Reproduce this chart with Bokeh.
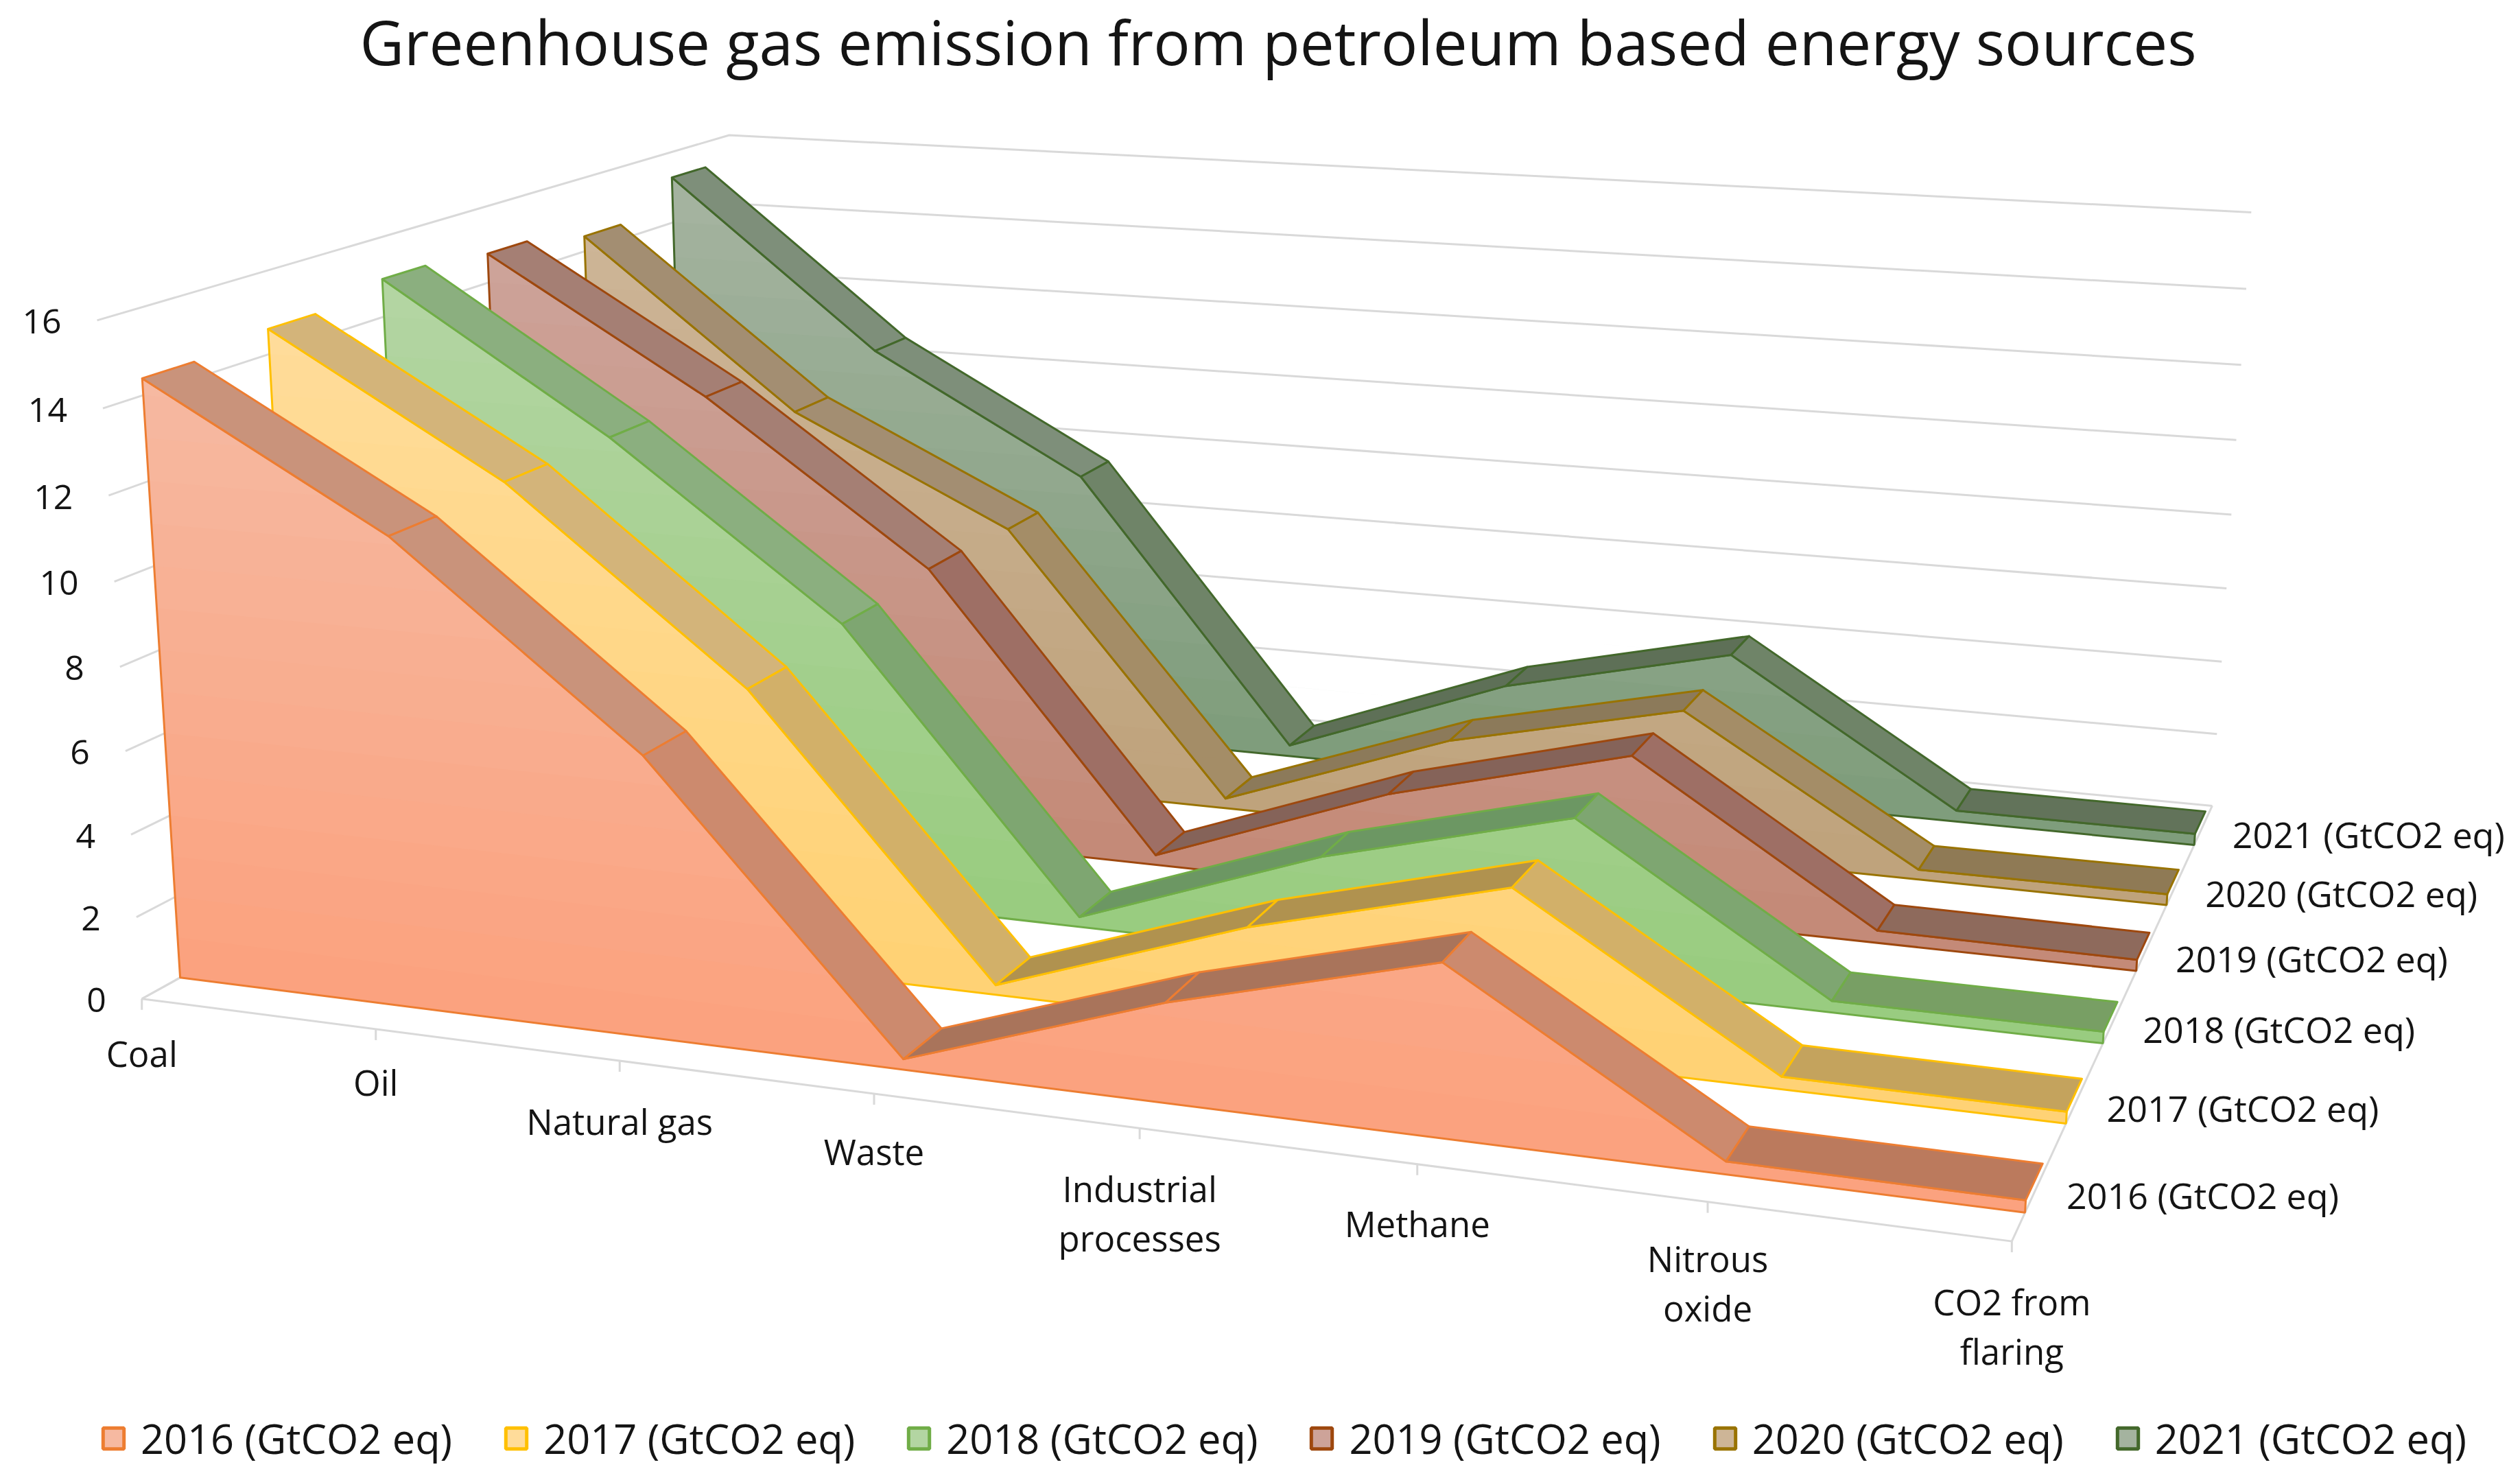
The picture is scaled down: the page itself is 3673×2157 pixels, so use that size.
import numpy as np
from bokeh.plotting import figure
from bokeh.embed import file_html
from bokeh.resources import INLINE
from bokeh.core.properties import value
from bokeh.models import Legend, LegendItem

# ---------- data ----------
title = "Greenhouse gas emission from petroleum based energy sources"
categories = [["Coal"], ["Oil"], ["Natural gas"], ["Waste"], ["Industrial", "processes"],
              ["Methane"], ["Nitrous", "oxide"], ["CO2 from", "flaring"]]
series_names = ["2016 (GtCO2 eq)", "2017 (GtCO2 eq)", "2018 (GtCO2 eq)",
                "2019 (GtCO2 eq)", "2020 (GtCO2 eq)", "2021 (GtCO2 eq)"]
y2016 = [14.39, 11.19, 6.66, 0.25, 2.31, 3.94, 0.29, 0.27]
y2017 = [14.61, 11.33, 6.83, 0.24, 2.35, 3.97, 0.29, 0.27]
y2018 = [14.95, 11.35, 7.12, 0.25, 2.45, 4.05, 0.28, 0.28]
y2019 = [14.76, 11.37, 7.29, 0.26, 2.51, 4.11, 0.31, 0.28]
y2020 = [14.41, 9.95, 7.17, 0.27, 2.47, 3.86, 0.26, 0.28]
y2021 = [15.28, 10.68, 7.51, 0.31, 2.59, 4.01, 0.30, 0.30]
series_values = [y2016, y2017, y2018, y2019, y2020, y2021]
value_ticks = [0, 2, 4, 6, 8, 10, 12, 14, 16]

# ---------- style ----------
FONT = "Open Sans"
INK = "#141414"
border = ["#ED7D31", "#FFC000", "#70AD47", "#9E480E", "#997300", "#43682B"]
face_top = ["#F6B9A1", "#FFDC9A", "#B3D5A2", "#CDA399", "#CDB597", "#A4B39F"]
face_bottom = ["#FBA27F", "#FFD275", "#99CC80", "#C48A78", "#BFA37C", "#7F9D7C"]
rib_down = ["#C9937B", "#D3B47A", "#8BAF7F", "#A57F74", "#A38E72", "#7E8F7A"]
rib_steep = ["#CC8A6E", "#D2B069", "#7EA671", "#9E6F65", "#A48D67", "#6F8468"]
rib_up = ["#A9745B", "#B0924F", "#6C9763", "#856359", "#8C7A5A", "#5E7057"]
rib_flat = ["#BB7A5D", "#C4A35D", "#789F64", "#8E6A5C", "#8F7A55", "#62735A"]
GRID = "#D9D9D9"
FRONT, BACK = 0.3, 0.7   # ribbon extent inside each series' depth cell
category_nudge = [-7, -9, 2, -2, 2, 0, -4, 2]

# ---------- camera: a pin-hole projection fitted to where the box's corners lie ----------
cam = []
for i, q in enumerate([(208,1455),(547,1500),(903,1546),(1275,1594),(1660,1645),(2064,1697),(2488,1753),(2933,1808)]):
    cam.append((i, 0, 0) + q)
for w, q in zip([2,4,6,8,10,12,14,16], [(199,1335),(189,1216),(182,1094),(174,972),(167,846),(158,722),(151,594),(140,466)]):
    cam.append((0, 0, w) + q)
cam.append((0, 6, 16, 1062, 197))
for w, q in zip([16,14,12,10,8,6,4,2,0], [(3280,309),(3274,421),(3266,531),(3259,641),(3252,750),(3245,857),(3239,963),(3232,1069),(3222,1174)]):
    cam.append((7, 6, w) + q)
for s, q in enumerate([(2951,1765),(3010,1637),(3065,1520),(3113,1414),(3157,1318),(3198,1231)]):
    cam.append((7, s + FRONT, 0) + q)
cam.append((0, FRONT, 0, 261, 1424))
cam = np.array(cam, float)
cm, csc = cam[:, 3:].mean(0), 1000.0
rows = []
for u, v, w, x, y in cam:
    x, y = (x - cm[0]) / csc, (y - cm[1]) / csc
    X = [u, v, w, 1.0]
    rows.append(X + [0, 0, 0, 0] + [-x * t for t in X])
    rows.append([0, 0, 0, 0] + X + [-y * t for t in X])
P = np.linalg.svd(np.array(rows))[2][-1].reshape(3, 4)


def proj(u, v, w):
    h = P @ np.array([u, v, w, 1.0])
    return h[0] / h[2] * csc + cm[0], h[1] / h[2] * csc + cm[1]


def path(pts):
    q = [proj(*t) for t in pts]
    return [a for a, _ in q], [b for _, b in q]


def mix(c0, c1, t):
    a = [int(c0[i:i + 2], 16) for i in (1, 3, 5)]
    b = [int(c1[i:i + 2], 16) for i in (1, 3, 5)]
    return "#%02X%02X%02X" % tuple(int(round(a[i] + (b[i] - a[i]) * t)) for i in range(3))


def clip_above(poly, level):
    out = []
    for i in range(len(poly)):
        a, b = poly[i], poly[(i + 1) % len(poly)]
        ina, inb = a[1] >= level, b[1] >= level
        if ina:
            out.append(a)
        if ina != inb:
            t = (level - a[1]) / (b[1] - a[1])
            out.append((a[0] + (b[0] - a[0]) * t, level))
    return out


p = figure(width=3657, height=2141, x_range=(0, 3657), y_range=(2141, 0),
           output_backend="svg", toolbar_location=None, min_border=0)
p.axis.visible = False
p.grid.visible = False
p.outline_line_color = None
p.background_fill_color = "white"
p.border_fill_color = "white"

# ---------- walls and floor ----------
n = len(categories) - 1
depth = len(series_values)
for w in value_ticks:
    xs, ys = path([(0, 0, w), (0, depth, w), (n, depth, w)])
    p.line(xs, ys, line_color=GRID, line_width=3)
xs, ys = path([(0, depth, 0), (0, 0, 0), (n, 0, 0), (n, depth, 0)])
p.line(xs, ys, line_color=GRID, line_width=3)
for u in range(n + 1):
    x0, y0 = proj(u, 0, 0)
    p.line([x0, x0], [y0, y0 + 16], line_color=GRID, line_width=3)

# ---------- series, back to front ----------
for s in reversed(range(depth)):
    vals = series_values[s]
    vf, vb = s + FRONT, s + BACK
    base = [(u, vals[u]) for u in range(n + 1)] + [(n, 0.0), (0, 0.0)]
    for level in np.arange(0, 16, 1.0):
        poly = clip_above(base, float(level)) if level > 0 else base
        if len(poly) < 3:
            continue
        xs, ys = path([(a, vf, b) for a, b in poly])
        col = mix(face_bottom[s], face_top[s], min(level / 14.0, 1.0))
        p.patch(xs, ys, fill_color=col, line_color=None)
    xs, ys = path([(a, vf, b) for a, b in base])
    p.patch(xs, ys, fill_color=None, line_color=border[s], line_width=3)
    for i in range(n):
        dw = vals[i + 1] - vals[i]
        if dw < -5.5 or (i > 2 and dw < -0.5):
            col = rib_steep[s]
        elif dw < -0.5:
            col = rib_down[s]
        elif dw > 0.1:
            col = rib_up[s]
        else:
            col = rib_flat[s]
        xs, ys = path([(i, vf, vals[i]), (i + 1, vf, vals[i + 1]),
                       (i + 1, vb, vals[i + 1]), (i, vb, vals[i])])
        p.patch(xs, ys, fill_color=col, line_color=border[s], line_width=3, line_join="round")

# ---------- text ----------
p.text(x=[(525 + 3200) / 2], y=[60], text=[title], text_font=value(FONT), text_font_size="89px",
       text_align="center", text_baseline="middle", text_color=INK)

tx, ty, tt = [], [], []
for w in value_ticks:
    x0, y0 = proj(0, 0, w)
    tx.append(x0 - 52); ty.append(y0 + 2); tt.append(str(w))
p.text(x=tx, y=ty, text=tt, text_font=value(FONT), text_font_size="50px",
       text_align="right", text_baseline="middle", text_color=INK)

cx, cy, ct = [], [], []
for u, label in enumerate(categories):
    x0, y0 = proj(u, 0, 0)
    for j, line in enumerate(label):
        cx.append(x0); cy.append(y0 + 86 + category_nudge[u] + 72 * j); ct.append(line)
p.text(x=cx, y=cy, text=ct, text_font=value(FONT), text_font_size="51px",
       text_align="center", text_baseline="middle", text_color=INK)

sx, sy = [], []
for s in range(depth):
    x0, y0 = proj(n, s + 0.5, 0)
    sx.append(x0 + 48); sy.append(y0 + 1)
p.text(x=sx, y=sy, text=series_names, text_font=value(FONT), text_font_size="52px",
       text_align="left", text_baseline="middle", text_color=INK)

# ---------- legend ----------
items = []
for s, name in enumerate(series_names):
    x0, y0 = proj(0, s + FRONT, series_values[s][0])
    r = p.patch([x0, x0, x0], [y0, y0, y0], fill_color=face_top[s], line_color=border[s], line_width=5)
    items.append(LegendItem(label=name, renderers=[r]))
legend = Legend(items=items, orientation="horizontal", location=(146, 5), padding=0, margin=0,
                glyph_width=38, glyph_height=38, label_standoff=21, spacing=74,
                label_text_font=FONT, label_text_font_size="59.5px", label_text_color=INK,
                label_height=38, border_line_color=None, background_fill_alpha=0)
p.add_layout(legend, "center")

open("out.html", "w").write(file_html(p, INLINE))
